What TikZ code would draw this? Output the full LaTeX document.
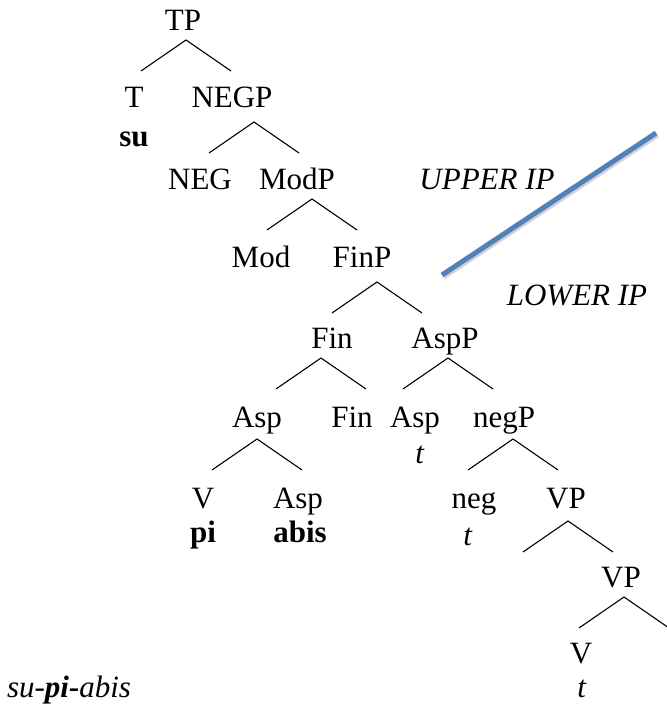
\documentclass[tikz,border=0pt]{standalone}
\usepackage{fontspec}
\setmainfont{Liberation Serif}
\definecolor{accentblue}{RGB}{79,129,189}
\tikzset{
  lbl/.style={anchor=base,inner sep=0pt,outer sep=0pt},
  branch/.style={line width=1.1pt,black},
  divider/.style={line width=5pt,accentblue},
  dividershadow/.style={line width=5pt,black!35,opacity=0.5}
}
\begin{document}
\begin{tikzpicture}[x=1pt,y=-1pt,font=\fontsize{31}{37}\selectfont]
\useasboundingbox (0,0) rectangle (666,708);
% labels
\node[lbl] (tp) at (183,31) {TP};
\node[lbl] (t) at (134,108) {T};
\node[lbl] (negp) at (232,108) {NEGP};
\node[lbl] (su) at (134,147) {\textbf{su}};
\node[lbl] (neg) at (200,190) {NEG};
\node[lbl] (modp) at (297,190) {ModP};
\node[lbl] (upper) at (487,190) {\textit{UPPER IP}};
\node[lbl] (mod) at (261,267) {Mod};
\node[lbl] (finp) at (362,267) {FinP};
\node[lbl] (lower) at (577,305) {\textit{LOWER IP}};
\node[lbl] (fin) at (332,348) {Fin};
\node[lbl] (aspp) at (445,348) {AspP};
\node[lbl] (asp) at (257,427) {Asp};
\node[lbl] (fintwo) at (352,427) {Fin};
\node[lbl] (asptwo) at (415,427) {Asp};
\node[lbl] (negpsmall) at (504,427) {negP};
\node[lbl] (tone) at (420,463) {\textit{t}};
\node[lbl] (v) at (203,508) {V};
\node[lbl] (aspthree) at (298,508) {Asp};
\node[lbl] (negsmall) at (474,508) {neg};
\node[lbl] (vp) at (566,508) {VP};
\node[lbl] (pi) at (203,542) {\textbf{pi}};
\node[lbl] (abis) at (300,542) {\textbf{abis}};
\node[lbl] (ttwo) at (468,545) {\textit{t}};
\node[lbl] (vptwo) at (621,587) {VP};
\node[lbl] (vtwo) at (581,663) {V};
\node[lbl] (tthree) at (582,697) {\textit{t}};
\node[lbl,anchor=base west] (supiabis) at (7,697) {\textit{su-}\textbf{\textit{pi-}}\textit{abis}};
% branch coordinates
\foreach \n/\x/\y in {tp/186/40, negp/254/122, modp/312/199, finp/377/282,
  fin/321/358, aspp/448/358, asp/257/439, negps/513/439, vp/568/521, vpt/624/597}{
  \coordinate (\n-a) at (\x,\y);
  \coordinate (\n-l) at (\x-45,\y+31);
  \coordinate (\n-r) at (\x+45,\y+31);
}
\foreach \n in {tp,negp,modp,finp,fin,aspp,asp,negps,vp,vpt}{
  \draw[branch] (\n-l) -- (\n-a) -- (\n-r);
}
% divider line
\coordinate (divA) at (442,275);
\coordinate (divB) at (656,133);
\draw[dividershadow] ([shift={(1.5,2)}]divA) -- ([shift={(1.5,2)}]divB);
\draw[divider] (divA) -- (divB);
\end{tikzpicture}
\end{document}
